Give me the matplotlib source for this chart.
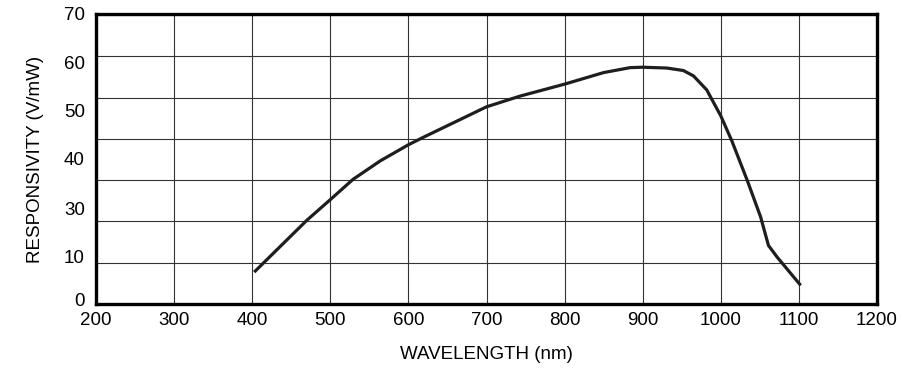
#!/usr/bin/env python

import numpy as np
import matplotlib.pyplot as plt

plt.rcParams['font.family'] = ['Liberation Sans', 'DejaVu Sans']

# responsivity curve
wavelength = [404, 470, 500, 529, 564, 600, 619, 700, 743, 800, 850, 884,
              900, 931, 952, 965, 982, 1000, 1014, 1034, 1051, 1061, 1072, 1101]
responsivity = [8.0, 20.3, 25.3, 30.2, 34.7, 38.6, 40.4, 47.8, 50.4, 53.3, 56.1, 57.3,
                57.4, 57.2, 56.6, 55.3, 51.9, 45.6, 39.6, 29.9, 21.1, 14.2, 11.4, 4.8]

x_ticks = [200, 300, 400, 500, 600, 700, 800, 900, 1000, 1100, 1200]
y_grid = [0, 10, 20, 30, 40, 50, 60, 70]
# the y labels in the reference sit a little off the grid lines
y_label_pos = [1.0, 11.4, 23.1, 35.2, 46.9, 58.5, 70.3]
y_label_txt = ["0", "10", "30", "40", "50", "60", "70"]

fig = plt.figure(figsize=(9.02, 3.75), dpi=100)
ax = fig.add_axes([96/902, 1 - 304/375, (877-96)/902, (304-14)/375])

ax.plot(wavelength, responsivity, color='#1e1e1e', lw=2.3, solid_joinstyle='round')

ax.set_xlim(200, 1200)
ax.set_ylim(0, 70)
ax.set_xticks(x_ticks)
ax.set_xticklabels([str(t) for t in x_ticks])
ax.set_yticks(y_grid, minor=True)
ax.set_yticks(y_label_pos)
ax.set_yticklabels(y_label_txt)

ax.grid(True, which='major', axis='x', color='#333333', lw=0.8)
ax.grid(True, which='minor', axis='y', color='#333333', lw=0.8)
ax.tick_params(which='both', length=0, labelsize=13.5)
ax.tick_params(axis='y', pad=8)
ax.tick_params(axis='x', pad=6)

for s in ax.spines.values():
    s.set_linewidth(2.4)
    s.set_color('black')

ax.set_xlabel("WAVELENGTH (nm)", fontsize=13.5, labelpad=12)
ax.set_ylabel("RESPONSIVITY (V/mW)", fontsize=13.5, labelpad=14)

fig.savefig("out.png", dpi=100)
